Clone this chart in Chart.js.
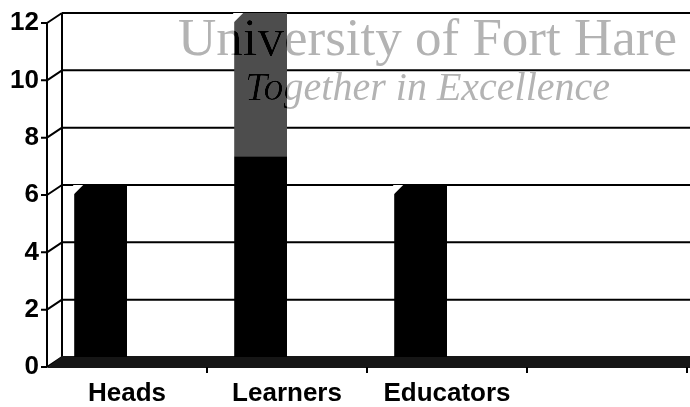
<!DOCTYPE html>
<html>
<head>
<meta charset="utf-8">
<script src="https://cdn.jsdelivr.net/npm/chart.js@4/dist/chart.umd.min.js"></script>
<style>
  body { margin: 0; background: #fff; }
  canvas { display: block; }
</style>
</head>
<body>
<canvas id="chart" width="690" height="407"></canvas>
<script>
// Categories along the floor
const labels = ['Heads', 'Learners', 'Educators', ''];

// Stacked values per category (black part, grey part on top)
const blackValues = [6, 7, 6, 0];
const greyValues = [0, 5, 0, 0];
// second column slot in each category, empty
const emptyValues = [0, 0, 0, 0];

const yTicks = [0, 2, 4, 6, 8, 10, 12];

const titleLine = 'University of Fort Hare';
const mottoLine = 'Together in Excellence';

// depth of the fake 3D box: back wall sits up and to the right
const DX = 15;
const DY = 10;

const frame3d = {
  id: 'frame3d',
  beforeDatasetsDraw(chart) {
    const { ctx, chartArea: a, scales: { x, y } } = chart;
    const right = chart.width;
    ctx.save();
    ctx.strokeStyle = '#000';
    ctx.lineWidth = 2;

    // back gridlines, diagonals and front ticks
    yTicks.forEach(v => {
      const by = y.getPixelForValue(v);
      ctx.beginPath();
      ctx.moveTo(a.left + DX, by);
      ctx.lineTo(right, by);
      ctx.moveTo(a.left, by + DY);
      ctx.lineTo(a.left + DX, by);
      ctx.moveTo(a.left - 6, by + DY);
      ctx.lineTo(a.left, by + DY);
      ctx.stroke();
    });

    // back wall edge + front axis
    ctx.beginPath();
    ctx.moveTo(a.left + DX, y.getPixelForValue(12));
    ctx.lineTo(a.left + DX, y.getPixelForValue(0));
    ctx.moveTo(a.left, y.getPixelForValue(12) + DY);
    ctx.lineTo(a.left, y.getPixelForValue(0) + DY);
    ctx.stroke();

    // floor
    const fy = y.getPixelForValue(0);
    ctx.fillStyle = '#161616';
    ctx.beginPath();
    ctx.moveTo(a.left, fy + DY + 1);
    ctx.lineTo(a.left + DX, fy - 1);
    ctx.lineTo(right, fy - 1);
    ctx.lineTo(right, fy + DY + 1);
    ctx.closePath();
    ctx.fill();

    // category separators under the floor
    ctx.beginPath();
    for (let i = 1; i <= labels.length; i++) {
      const px = x.getPixelForValue(i - 0.5);
      ctx.moveTo(px, fy + DY);
      ctx.lineTo(px, fy + DY + 6);
    }
    ctx.stroke();
    ctx.restore();
  },
  afterDatasetsDraw(chart) {
    const { ctx } = chart;
    const bars = [];
    // cut the top-left corner of each column
    labels.forEach((_, i) => {
      let top = null;
      [0, 1].forEach(d => {
        const el = chart.getDatasetMeta(d).data[i];
        const v = chart.data.datasets[d].data[i];
        if (v > 0) {
          top = el;
          bars.push(el);
        }
      });
      if (top) {
        const left = top.x - top.width / 2;
        ctx.save();
        ctx.fillStyle = '#fff';
        ctx.beginPath();
        ctx.moveTo(left - 1, top.y);
        ctx.lineTo(left + 9, top.y);
        ctx.lineTo(left - 1, top.y + 10);
        ctx.closePath();
        ctx.fill();
        ctx.restore();
      }
    });

    const drawText = color => {
      ctx.fillStyle = color;
      ctx.textBaseline = 'alphabetic';
      ctx.textAlign = 'left';
      ctx.font = '53px "Liberation Serif", serif';
      ctx.fillText(titleLine, 178, 55, 502);
      ctx.font = 'italic 40px "Liberation Serif", serif';
      ctx.fillText(mottoLine, 245, 100, 368);
    };

    ctx.save();
    drawText('#b3b3b3');
    ctx.restore();

    // darker where the text crosses a column
    ctx.save();
    ctx.beginPath();
    bars.forEach(el => {
      const l = el.x - el.width / 2;
      ctx.rect(l, el.y, el.width, el.base - el.y);
    });
    ctx.clip();
    drawText('#000');
    ctx.restore();
  }
};

new Chart(document.getElementById('chart'), {
  type: 'bar',
  data: {
    labels,
    datasets: [
      { data: blackValues, backgroundColor: '#000', stack: 'a', borderWidth: 0 },
      { data: greyValues, backgroundColor: '#4d4d4d', stack: 'a', borderWidth: 0 },
      { data: emptyValues, backgroundColor: '#000', stack: 'b', borderWidth: 0 }
    ]
  },
  options: {
    responsive: false,
    animation: false,
    layout: { padding: { top: 13, right: 3, left: 0, bottom: 0 } },
    plugins: { legend: { display: false }, tooltip: { enabled: false } },
    datasets: { bar: { categoryPercentage: 0.66, barPercentage: 1 } },
    scales: {
      x: {
        stacked: true,
        grid: { display: false, drawTicks: false },
        border: { display: false },
        ticks: {
          color: '#000',
          padding: 21,
          maxRotation: 0,
          autoSkip: false,
          font: { family: '"Liberation Sans", Arial, sans-serif', size: 26, weight: 'bold' }
        },
        afterFit: s => { s.height = 50; s.paddingLeft = 0; s.paddingRight = 0; }
      },
      y: {
        stacked: true,
        min: 0,
        max: 12,
        grid: { display: false, drawTicks: false },
        border: { display: false },
        ticks: {
          stepSize: 2,
          color: '#000',
          padding: 8,
          labelOffset: DY,
          font: { family: '"Liberation Sans", Arial, sans-serif', size: 26, weight: 'bold' }
        },
        afterFit: s => { s.width = 47; s.paddingTop = 0; s.paddingBottom = 0; }
      }
    }
  },
  plugins: [frame3d]
});
</script>
</body>
</html>
